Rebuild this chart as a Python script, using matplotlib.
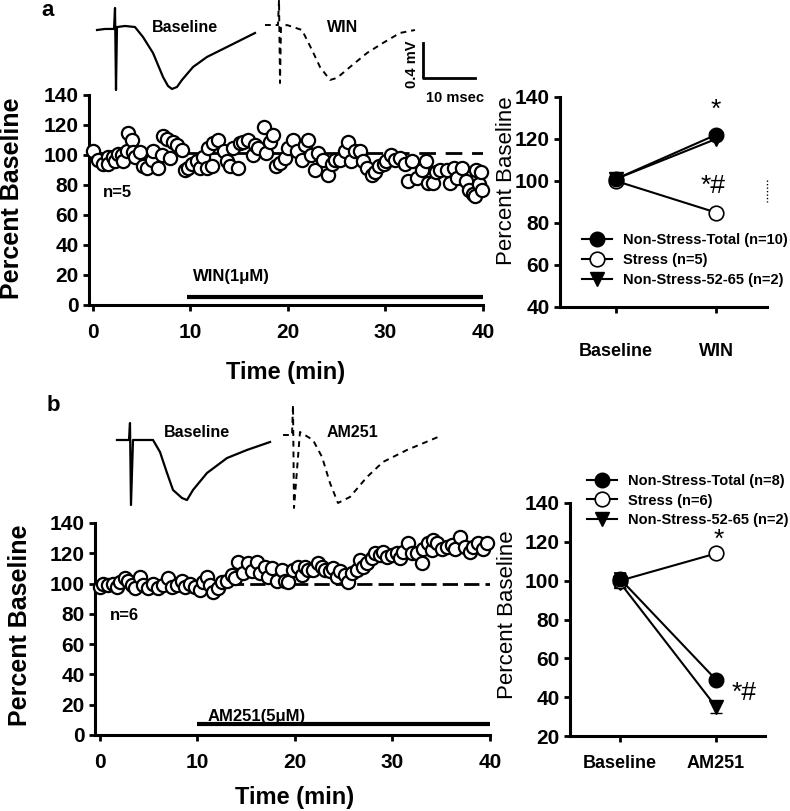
import matplotlib
matplotlib.use("Agg")
import matplotlib.pyplot as plt
from matplotlib.lines import Line2D

plt.rcParams['font.family'] = ['Liberation Sans', 'DejaVu Sans']
plt.rcParams['font.weight'] = 'bold'

# ---------------- data ----------------
# Panel a time course (WIN, stressed, n=5)
time_a = [0.0, 0.55, 1.06, 1.57, 1.57, 2.09, 2.26, 2.6, 2.94, 3.11, 3.45, 3.62, 3.97, 4.14, 4.31,
          4.82, 5.16, 5.5, 6.02, 6.19, 6.7, 7.04, 7.21, 7.56, 7.9, 8.24, 8.58, 9.09, 9.44, 9.78,
          10.12, 10.63, 10.97, 11.3, 11.66, 11.8, 12.17, 12.3, 12.85, 13.4, 13.7, 14.05, 14.4,
          14.9, 15.1, 15.4, 15.9, 16.4, 16.6, 16.95, 17.5, 17.8, 18.15, 18.5, 18.8, 19.2, 19.7,
          20.0, 20.5, 20.9, 21.4, 21.7, 22.1, 22.4, 22.8, 23.1, 23.6, 24.1, 24.5, 24.8, 25.3,
          25.8, 26.2, 26.5, 26.9, 27.4, 27.7, 28.1, 28.6, 28.9, 29.3, 29.8, 30.1, 30.6, 31.0,
          31.5, 32.0, 32.3, 32.7, 33.2, 33.7, 34.2, 34.4, 34.9, 35.2, 35.6, 36.3, 36.6, 37.0,
          37.3, 37.8, 38.3, 38.6, 39.0, 39.3, 39.2, 39.6, 39.8, 39.9]
value_a = [102.5, 97, 94, 99, 94, 99, 96, 101, 100, 96, 103, 115, 110, 102, 99,
           102, 92.6, 91.5, 97, 103, 91.5, 100, 112.4, 111, 98, 109, 107, 103.6, 90, 91.5,
           94, 96, 91.5, 99, 91.5, 104.7, 92.6, 108, 110, 102.5, 96, 92.6, 104.7,
           91.5, 108, 109, 110, 100, 107, 104.7, 119, 101.4, 109, 113.5, 92.6, 95, 98,
           104.7, 110, 102.5, 97, 107, 110, 100, 90, 101.4, 97, 87, 94, 97, 97,
           102.5, 109, 96, 102.5, 102.5, 96, 91.5, 87, 89, 92.6, 94, 96, 100, 97,
           98, 94, 82.7, 96, 85, 90, 96, 81.6, 81.6, 89, 90, 90, 81.6, 91.5,
           85, 91.5, 82.7, 77, 74, 90, 73, 81, 89, 77]

# Panel b time course (AM251, stressed, n=6)
time_b = [0, 0.34, 0.85, 1.37, 1.71, 2.05, 2.56, 2.91, 3.25, 3.59, 4.10, 4.44, 4.96, 5.47,
          5.98, 6.50, 7.01, 7.35, 7.86, 8.38, 8.72, 9.23, 9.74, 10.26, 10.60, 10.94, 11.28,
          11.62, 12.14, 12.48, 12.99, 13.50, 13.85, 14.19, 14.70, 15.21, 15.56, 16.07, 16.41,
          16.92, 17.26, 17.61, 18.12, 18.63, 18.97, 19.32, 19.83, 20.34, 20.68, 21.03, 21.37,
          21.88, 22.39, 22.74, 23.08, 23.59, 23.93, 24.27, 24.62, 25.13, 25.47, 25.81, 26.32,
          26.67, 27.01, 27.35, 27.86, 28.21, 28.72, 29.06, 29.40, 29.91, 30.43, 30.77, 31.11,
          31.62, 31.97, 32.48, 32.99, 33.16, 33.68, 34.02, 34.19, 34.53, 35.04, 35.56, 36.07,
          36.41, 36.92, 37.44, 37.95, 38.29, 38.80, 39.3, 39.7]
value_b = [98, 100, 99, 100, 98, 101, 103.5, 102, 99, 97, 104.5, 99, 97, 100,
           97, 99, 103.5, 98, 99, 102, 98, 100, 98, 96, 101, 104.5, 99,
           94.6, 97, 101, 102, 105.7, 103.5, 114.5, 106.7, 113.4, 108, 114.5, 106.7,
           111, 104.5, 110, 102, 109, 102, 101, 109, 111, 105.7, 111, 109,
           109, 113.4, 111, 109, 108, 110, 104.5, 108, 105.7, 101, 106.7, 109,
           115.6, 111, 113.4, 116.7, 120, 119, 121, 117.8, 119, 120, 116.7, 121,
           126.6, 120, 120, 113.4, 123, 126.6, 122, 128.8, 126.6, 123, 124.4, 125.5,
           123, 131, 124.4, 121, 124.4, 126.6, 123, 127]

# Summary panels
groups_a = ['Non-Stress-Total (n=10)', 'Stress (n=5)', 'Non-Stress-52-65 (n=2)']
conds_a = ['Baseline', 'WIN']
nst_a = [101, 122]
str_a = [100, 85]
ns52_a = [101, 120]

groups_b = ['Non-Stress-Total (n=8)', 'Stress (n=6)', 'Non-Stress-52-65 (n=2)']
conds_b = ['Baseline', 'AM251']
nst_b = [101, 49]
nst_b_err = [3, 2]
str_b = [100, 114]
str_b_err = [4, 2]
ns52_b = [99, 35]
ns52_b_err = [3, 3]

# Representative traces (ms, mV)
trace_a_base_t = [1.35, 2.88, 4.23, 4.62, 4.81, 5.0, 5.19, 6.73, 8.65, 10.19, 12.12, 14.04, 15.0,
                  15.77, 16.73, 17.69, 19.81, 22.5, 26.35, 31.73]
trace_a_base_v = [-0.023, -0.011, -0.011, -0.011, 0.229, -0.709, 0.011, 0.023, 0.011, -0.103,
                  -0.286, -0.56, -0.663, -0.697, -0.674, -0.594, -0.446, -0.331, -0.217, -0.057]
trace_a_win_t = [33.65, 36.15, 36.35, 36.54, 36.73, 37.88, 40.77, 42.69, 44.23, 46.15, 47.5, 50,
                 53.27, 56.35, 59.6, 62.5]
trace_a_win_v = [0.034, 0.034, 0.32, -0.629, 0.011, 0.034, -0.023, -0.251, -0.446, -0.594, -0.571,
                 -0.446, -0.286, -0.171, -0.057, -0.023]
trace_b_base_t = [5.19, 7.5, 7.69, 7.88, 8.27, 12.12, 13.46, 14.81, 15.96, 17.69, 18.65, 19.81,
                  22.5, 26.35, 30.19, 34.62]
trace_b_base_v = [0.0, 0.0, 0.194, -0.743, 0.0, 0.0, -0.137, -0.377, -0.571, -0.663, -0.686,
                  -0.571, -0.377, -0.206, -0.114, -0.023]
trace_b_am_t = [37.12, 38.85, 39.04, 39.23, 40.38, 42.88, 44.62, 46.15, 47.69, 50, 53.27, 56.35,
                60.96, 66.92]
trace_b_am_v = [0.057, 0.057, 0.4, -0.777, 0.091, 0.0, -0.194, -0.491, -0.72, -0.651, -0.423,
                -0.251, -0.114, 0.034]

# ---------------- figure ----------------
W, H = 790, 811
fig = plt.figure(figsize=(W / 100, H / 100), dpi=100)


def px_axes(x0, y0, x1, y1):
    return fig.add_axes([x0 / W, 1 - y1 / H, (x1 - x0) / W, (y1 - y0) / H])


def style(ax, fs=15):
    for s in ['top', 'right']:
        ax.spines[s].set_visible(False)
    for s in ['left', 'bottom']:
        ax.spines[s].set_linewidth(2.2)
    ax.tick_params(width=2, length=4, labelsize=fs, direction='out')
    for lab in ax.get_xticklabels() + ax.get_yticklabels():
        lab.set_fontweight('bold')


# ---- panel a: time course
ax1 = px_axes(89, 95, 483, 305)
ax1.plot(time_a, value_a, 'o', mfc='white', mec='black', mew=1.6, ms=9.5, clip_on=False, zorder=3)
ax1.plot([0, 28], [101.5, 101.5], '-', color='black', lw=2, zorder=2)
ax1.plot([28, 40], [101.5, 101.5], color='black', lw=2, dashes=(6, 3.5), zorder=2)
ax1.plot([9.6, 40], [5.3, 5.3], color='black', lw=3, solid_capstyle='butt')
ax1.text(10.3, 19, 'WIN(1\u03bcM)', fontsize=12, fontweight='bold', va='center', ha='left')
ax1.text(1.0, 75.3, 'n=5', fontsize=12, fontweight='bold', va='center', ha='left')
ax1.set_xlim(-0.4, 40)
ax1.set_ylim(0, 140)
ax1.set_xticks([0, 10, 20, 30, 40])
ax1.set_yticks(range(0, 141, 20))
style(ax1)
ax1.tick_params(axis='x', pad=9)
ax1.set_ylabel('Percent Baseline', fontsize=18, fontweight='bold')
ax1.yaxis.set_label_coords(-0.165, 0.51)
ax1.set_xlabel('Time (min)', fontsize=17, fontweight='bold')
ax1.xaxis.set_label_coords(0.5, -0.265)

# ---- panel a: summary
ax2 = px_axes(560, 97, 767, 307)
xs = [0, 1]
l1, = ax2.plot(xs, ns52_a, '-v', color='black', mfc='black', ms=10, lw=1.5, zorder=3)
l2, = ax2.plot(xs, str_a, '-o', color='black', mfc='white', mew=1.2, ms=10.5, lw=1.5, zorder=4)
l3, = ax2.plot(xs, nst_a, '-o', color='black', mfc='black', ms=10.5, lw=1.5, zorder=5)
ax2.text(1.0, 133.8, '*', fontsize=19, ha='center', va='center', fontweight='normal')
ax2.text(0.97, 97.6, '*#', fontsize=19, ha='center', va='center', fontweight='normal')
ax2.set_xlim(-0.56, 1.51)
ax2.set_ylim(40, 140)
ax2.set_xticks(xs)
ax2.set_xticklabels(conds_a)
ax2.set_yticks(range(40, 141, 20))
style(ax2)
ax2.tick_params(axis='x', pad=22, labelsize=13)
ax2.set_ylabel('Percent Baseline', fontsize=16, fontweight='normal')
ax2.yaxis.set_label_coords(-0.208, 0.6)
ax2.legend([l3, l2, l1], groups_a, loc='upper left', bbox_to_anchor=(582 / W, 1 - 233 / H),
           bbox_transform=fig.transFigure, frameon=False, handlelength=2.05,
           handletextpad=0.75, labelspacing=0.42, borderaxespad=0, borderpad=0,
           prop={'weight': 'bold', 'size': 10.5})
fig.add_artist(Line2D([767 / W, 767 / W], [1 - 180 / H, 1 - 202 / H], color='black', lw=1,
                      linestyle=(0, (1, 1.5))))

# ---- panel a: traces
axt1 = px_axes(90, 0, 480, 95)
axt1.set_xlim(0, 75)
axt1.set_ylim(-0.766, 0.32)
axt1.axis('off')
axt1.plot(trace_a_base_t, trace_a_base_v, color='black', lw=1.6, clip_on=False)
axt1.plot(trace_a_win_t, trace_a_win_v, color='black', lw=1.4, dashes=(3, 2.5), clip_on=False)
axt1.plot([64.04, 64.04, 74.04], [-0.171, -0.571, -0.571], color='black', lw=2)
axt1.text(18.3, 0.011, 'Baseline', fontsize=11.5, fontweight='bold', ha='center', va='center')
axt1.text(48.5, 0.011, 'WIN', fontsize=11.5, fontweight='bold', ha='center', va='center')
axt1.text(61.9, -0.42, '0.4 mV', fontsize=10.5, fontweight='bold', ha='center', va='center',
          rotation=90)
axt1.text(64.6, -0.80, '10 msec', fontsize=10.5, fontweight='bold', ha='left', va='center',
          clip_on=False)

# ---- panel b: time course
ax3 = px_axes(95, 523, 490, 735)
ax3.plot(time_b, value_b, 'o', mfc='white', mec='black', mew=1.6, ms=9.5, clip_on=False, zorder=3)
ax3.plot([0, 40], [100, 100], color='black', lw=2, dashes=(5.5, 2.2), zorder=2)
ax3.plot([10, 40], [7.3, 7.3], color='black', lw=3, solid_capstyle='butt')
ax3.text(11.0, 12.5, 'AM251(5\u03bcM)', fontsize=12, fontweight='bold', va='center', ha='left')
ax3.text(1.0, 78.6, 'n=6', fontsize=12, fontweight='bold', va='center', ha='left')
ax3.set_xlim(-0.51, 40)
ax3.set_ylim(0, 140)
ax3.set_xticks([0, 10, 20, 30, 40])
ax3.set_yticks(range(0, 141, 20))
style(ax3)
ax3.tick_params(axis='x', pad=9)
ax3.set_ylabel('Percent Baseline', fontsize=18, fontweight='bold')
ax3.yaxis.set_label_coords(-0.16, 0.52)
ax3.set_xlabel('Time (min)', fontsize=17, fontweight='bold')
ax3.xaxis.set_label_coords(0.504, -0.24)

# ---- panel b: summary
ax4 = px_axes(570, 503, 765, 736)
m1 = ax4.errorbar(xs, ns52_b, yerr=ns52_b_err, fmt='-v', color='black', mfc='black', ms=10,
                  lw=1.5, capsize=4, elinewidth=1.2, zorder=3)
m2 = ax4.errorbar(xs, str_b, yerr=str_b_err, fmt='-o', color='black', mfc='white', mew=1.2,
                  ms=10.5, lw=1.5, capsize=4, elinewidth=1.2, zorder=4)
m3 = ax4.errorbar(xs, nst_b, yerr=nst_b_err, fmt='-o', color='black', mfc='black', ms=10.5,
                  lw=1.5, capsize=4, elinewidth=1.2, zorder=5)
ax4.text(1.03, 121, '*', fontsize=19, ha='center', va='center', fontweight='normal')
ax4.text(1.29, 42.2, '*#', fontsize=19, ha='center', va='center', fontweight='normal')
ax4.set_xlim(-0.52, 1.51)
ax4.set_ylim(20, 140)
ax4.set_xticks(xs)
ax4.set_xticklabels(conds_b)
ax4.set_yticks(range(20, 141, 20))
style(ax4)
ax4.tick_params(axis='x', pad=10, labelsize=13)
ax4.set_ylabel('Percent Baseline', fontsize=16, fontweight='normal')
ax4.yaxis.set_label_coords(-0.267, 0.52)
ax4.legend([m3[0], m2[0], m1[0]], groups_b, loc='upper left', bbox_to_anchor=(587 / W, 1 - 474 / H),
           bbox_transform=fig.transFigure, frameon=False, handlelength=2.05,
           handletextpad=0.75, labelspacing=0.38, borderaxespad=0, borderpad=0,
           prop={'weight': 'bold', 'size': 10.5})

# ---- panel b: traces
axt2 = px_axes(90, 400, 480, 510)
axt2.set_xlim(0, 75)
axt2.set_ylim(-0.8, 0.457)
axt2.axis('off')
axt2.plot(trace_b_base_t, trace_b_base_v, color='black', lw=1.6, clip_on=False)
axt2.plot(trace_b_am_t, trace_b_am_v, color='black', lw=1.4, dashes=(3, 2.5), clip_on=False)
axt2.text(20.6, 0.08, 'Baseline', fontsize=11.5, fontweight='bold', ha='center', va='center')
axt2.text(50.4, 0.08, 'AM251', fontsize=11.5, fontweight='bold', ha='center', va='center')

# panel letters
fig.text(48 / W, 1 - 10 / H, 'a', fontsize=16, fontweight='bold', ha='center', va='center')
fig.text(53 / W, 1 - 405 / H, 'b', fontsize=16, fontweight='bold', ha='center', va='center')

fig.savefig('out.png', dpi=100)
